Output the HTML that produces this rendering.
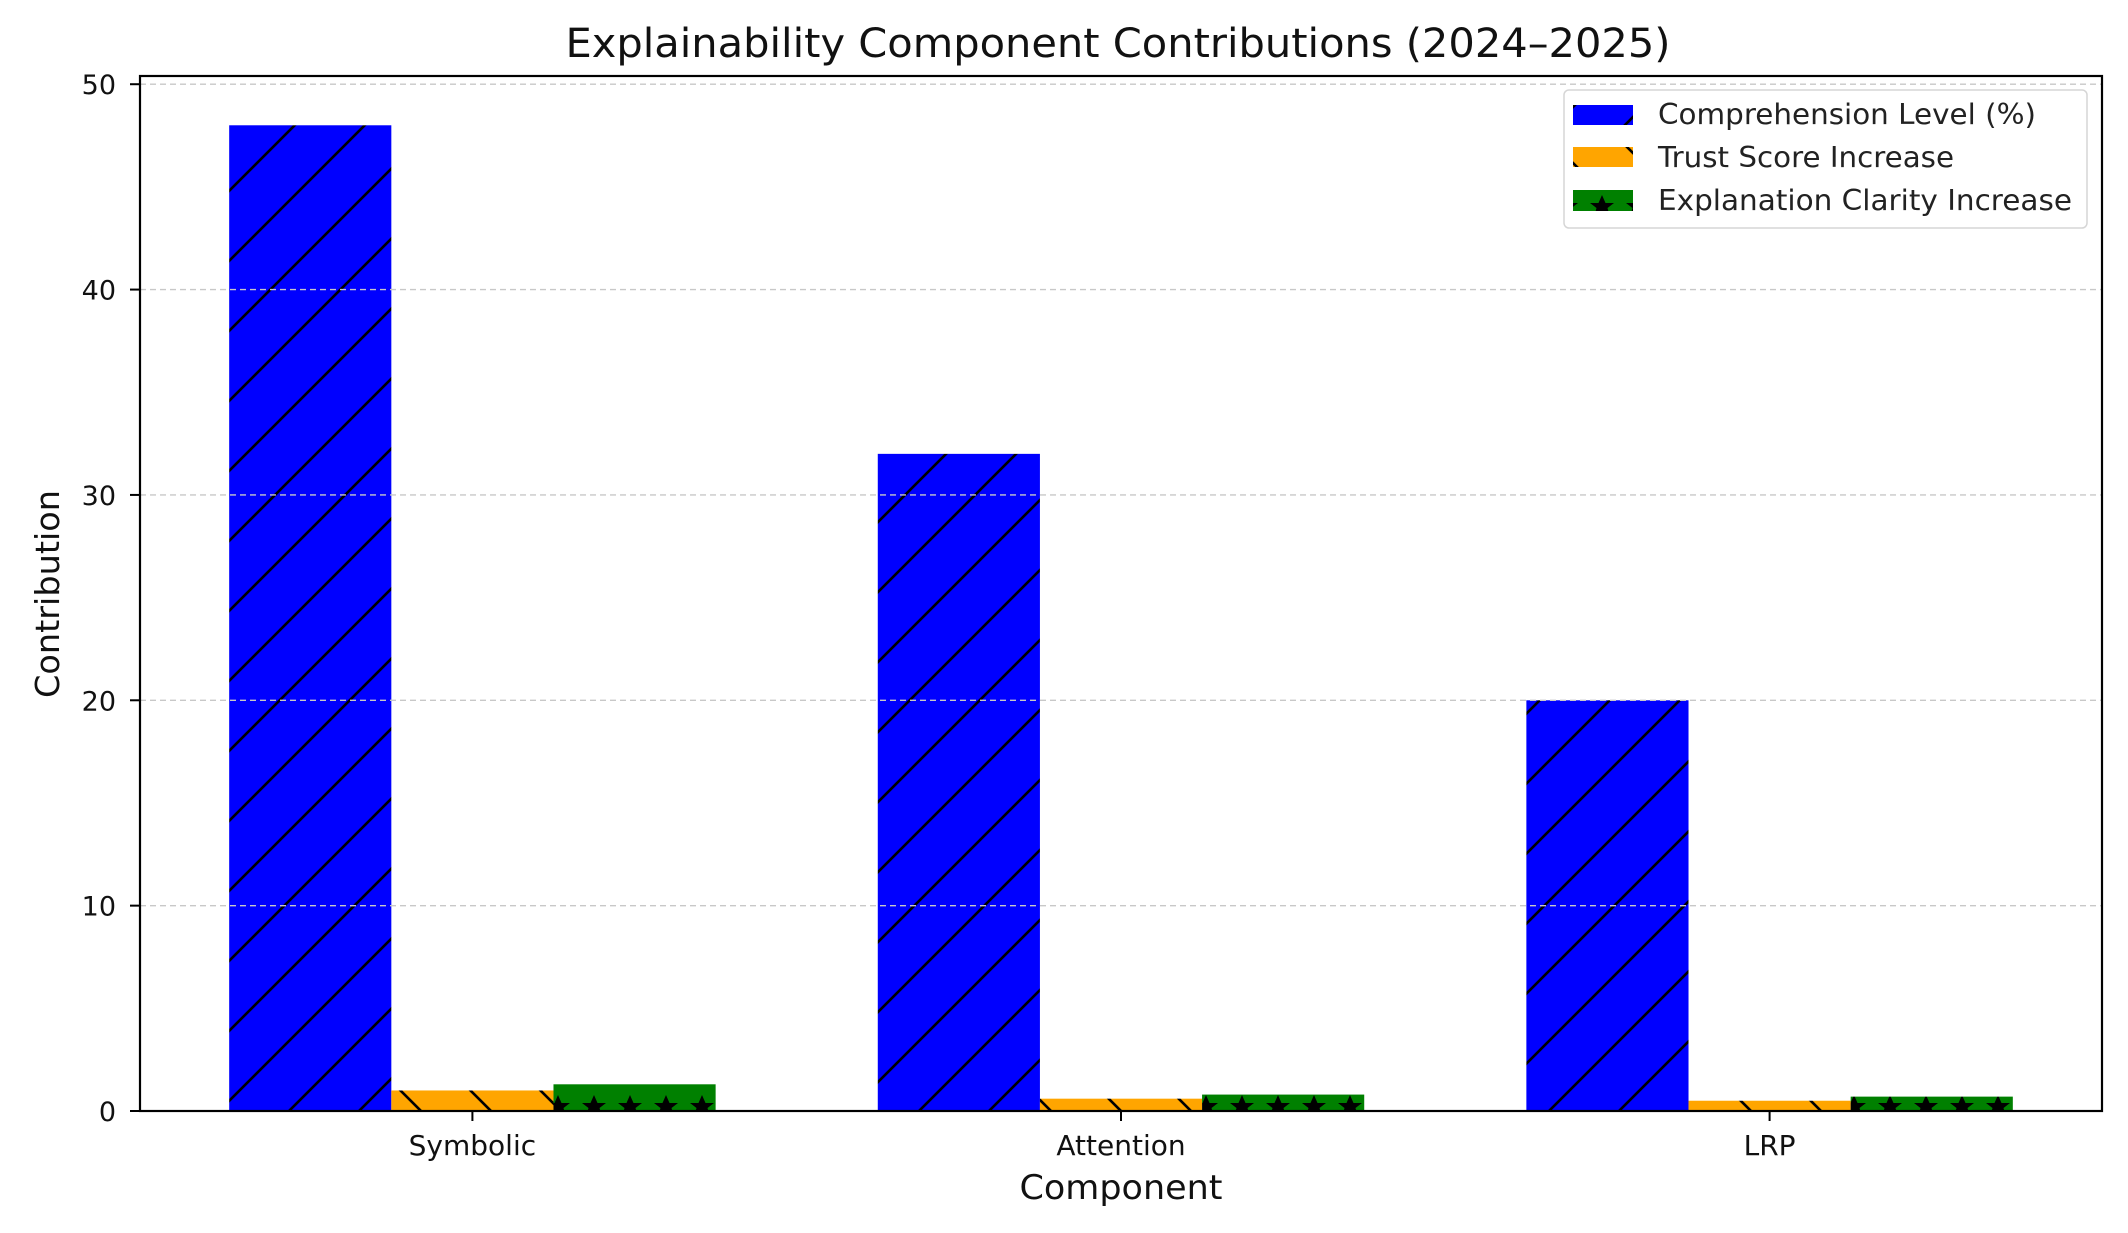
<!DOCTYPE html>
<html><head><meta charset="utf-8"><style>
html,body{margin:0;padding:0;background:#fff;}
svg{display:block;font-family:"DejaVu Sans","Liberation Sans",sans-serif;}
</style></head><body>
<svg id="chart" width="2128" height="1233" viewBox="0 0 2128 1233" xmlns="http://www.w3.org/2000/svg">
<defs>
<pattern id="hatch-fwd" patternUnits="userSpaceOnUse" width="70" height="70">
<rect width="70" height="70" fill="#0000ff"/>
<path d="M-5,75 L75,-5 M-40,40 L40,-40 M30,110 L110,30" stroke="#000" stroke-width="2.6"/>
</pattern>
<pattern id="hatch-back" patternUnits="userSpaceOnUse" width="70" height="70" x="10">
<rect width="70" height="70" fill="#ffa500"/>
<path d="M-5,-5 L75,75 M-40,30 L40,110 M30,-40 L110,40" stroke="#000" stroke-width="2.6"/>
</pattern>
<pattern id="hatch-star" patternUnits="userSpaceOnUse" width="36" height="36" y="1085">
<rect width="36" height="36" fill="#008000"/>
<polygon points="18,10 21.5,18 30,18 23.5,23 26,32 18,26.5 10,32 12.5,23 6,18 14.5,18" fill="#000"/>
</pattern>
</defs>
<g id="bars"></g>
<g id="grid"></g>
<g id="axes"></g>
<text x="1118" y="57" font-size="40" text-anchor="middle" textLength="1105" lengthAdjust="spacingAndGlyphs" fill="#111">Explainability Component Contributions (2024–2025)</text>
<text x="1121" y="1199" font-size="34" text-anchor="middle" textLength="203" lengthAdjust="spacingAndGlyphs" fill="#111">Component</text>
<text transform="translate(59,594) rotate(-90)" font-size="33" text-anchor="middle" textLength="208" lengthAdjust="spacingAndGlyphs" fill="#111">Contribution</text>
<g>
<rect x="1564" y="90" width="523" height="138" rx="5" fill="#fff" fill-opacity="0.8" stroke="#d6d6d6" stroke-width="1.5"/>
<g>
<rect x="1573" y="105" width="60" height="20" fill="url(#hatch-fwd)"/>
<text x="1658" y="124" font-size="28.5" textLength="378" lengthAdjust="spacingAndGlyphs" fill="#222">Comprehension Level (%)</text></g>
<g>
<rect x="1573" y="147" width="60" height="20" fill="url(#hatch-back)"/>
<text x="1658" y="167" font-size="28.5" textLength="296" lengthAdjust="spacingAndGlyphs" fill="#222">Trust Score Increase</text></g>
<g>
<rect x="1573" y="190" width="60" height="21" fill="url(#hatch-star)"/>
<text x="1658" y="210" font-size="28.5" textLength="414" lengthAdjust="spacingAndGlyphs" fill="#222">Explanation Clarity Increase</text></g>
</g>
</svg>
<script>
const categories = ["Symbolic", "Attention", "LRP"];
const comprehension = [48, 32, 20];
const trust = [1.0, 0.6, 0.5];
const clarity = [1.3, 0.8, 0.7];
const yTicks = [0, 10, 20, 30, 40, 50];

const NS = "http://www.w3.org/2000/svg";
const L = 140, R = 2102, T = 76, B = 1111;
const xMin = -0.5125, xMax = 2.5125, yMin = 0, yMax = 50.4;
const xs = v => L + (v - xMin) / (xMax - xMin) * (R - L);
const ys = v => B - (v - yMin) / (yMax - yMin) * (B - T);
const barW = 0.25;
function mk(tag, attrs, parent) {
  const e = document.createElementNS(NS, tag);
  for (const k in attrs) e.setAttribute(k, attrs[k]);
  parent.appendChild(e);
  return e;
}
const barsG = document.getElementById("bars");
const series = [
  {vals: comprehension, fill: "url(#hatch-fwd)", off: -barW, key: "comprehension"},
  {vals: trust, fill: "url(#hatch-back)", off: 0, key: "trust"},
  {vals: clarity, fill: "url(#hatch-star)", off: barW, key: "clarity"}
];
series.forEach(s => {
  s.vals.forEach((v, i) => {
    const x0 = xs(i + s.off - barW / 2), x1 = xs(i + s.off + barW / 2);
    const r = mk("rect", {x: x0, y: ys(v), width: x1 - x0, height: ys(0) - ys(v), fill: s.fill}, barsG);
    
    
  });
});
const gridG = document.getElementById("grid");
const axesG = document.getElementById("axes");
yTicks.forEach(t => {
  const y = ys(t);
  const g = mk("line", {x1: L, x2: R, y1: y, y2: y, stroke: "#c8c8c8", "stroke-width": 1.4, "stroke-dasharray": "6,4"}, gridG);
  
  
  mk("line", {x1: L - 10, x2: L, y1: y, y2: y, stroke: "#000", "stroke-width": 2}, axesG);
  const lbl = mk("text", {x: L - 24, y: y + 10, "font-size": 27, "text-anchor": "end", fill: "#111"}, axesG);
  lbl.textContent = t;
  
  
});
categories.forEach((c, i) => {
  const x = xs(i);
  mk("line", {x1: x, x2: x, y1: B, y2: B + 10, stroke: "#000", "stroke-width": 2}, axesG);
  const lbl = mk("text", {x: x, y: B + 44, "font-size": 28, "text-anchor": "middle", fill: "#111"}, axesG);
  lbl.textContent = c;
  
  
});
const frame = mk("rect", {x: L, y: T, width: R - L, height: B - T, fill: "none", stroke: "#000", "stroke-width": 2.2}, axesG);


</script>
</body></html>
